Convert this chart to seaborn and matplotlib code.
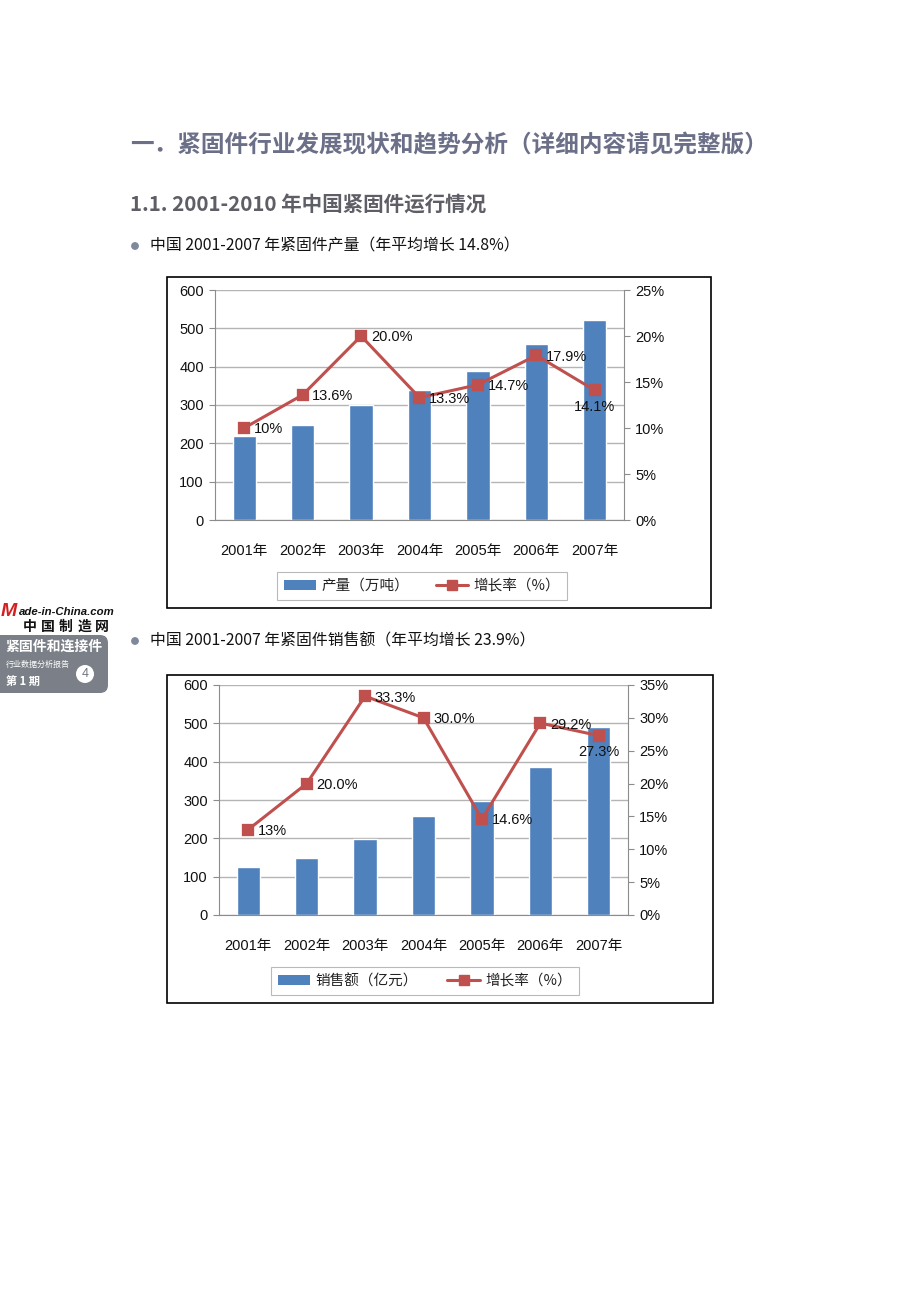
"""Fastener industry report page: output and sales charts 2001-2007"""
import numpy as np
import matplotlib
matplotlib.use("Agg")
import matplotlib.pyplot as plt
import seaborn as sns
from matplotlib.patches import Patch, Rectangle, FancyBboxPatch, Circle
from matplotlib.lines import Line2D
from matplotlib.ticker import FuncFormatter

sns.set_theme(style="white")
plt.rcParams['font.family'] = ['Liberation Sans', 'Noto Sans CJK SC', 'DejaVu Sans']

# data
years = ['2001年', '2002年', '2003年', '2004年', '2005年', '2006年', '2007年']
output = [219, 248, 300, 339, 389, 459, 522]
output_growth = [10.0, 13.6, 20.0, 13.3, 14.7, 17.9, 14.1]
output_labels = ['10%', '13.6%', '20.0%', '13.3%', '14.7%', '17.9%', '14.1%']
sales = [125, 149, 198, 258, 297, 386, 490]
sales_growth = [13.0, 20.0, 33.3, 30.0, 14.6, 29.2, 27.3]
sales_labels = ['13%', '20.0%', '33.3%', '30.0%', '14.6%', '29.2%', '27.3%']

BAR = '#4f81bd'
RED = '#c0504d'
GRID = '#b4b4b4'
AXC = '#8c8c8c'
W, H = 920, 1302

fig = plt.figure(figsize=(W / 100, H / 100), dpi=100)

# overlay in pixel coordinates for page text, frames and logo
bg = fig.add_axes([0, 0, 1, 1])
bg.set_xlim(0, W)
bg.set_ylim(H, 0)
bg.axis('off')

cjk = ['Noto Sans CJK SC', 'DejaVu Sans']
bg.text(130, 145, '一．紧固件行业发展现状和趋势分析（详细内容请见完整版）',
        fontsize=17, fontweight='bold', color='#6b6f88', family=cjk, va='center')
bg.text(130, 205, '1.1. 2001-2010 年中国紧固件运行情况',
        fontsize=14.8, fontweight='bold', color='#5e5e66', family=cjk, va='center')

bullets = [(246, '中国 2001-2007 年紧固件产量（年平均增长 14.8%）'),
           (641, '中国 2001-2007 年紧固件销售额（年平均增长 23.9%）')]
for y, txt in bullets:
    bg.add_patch(Circle((135, y), 3.2, color='#7f889c'))
    bg.text(150, y, txt, fontsize=11.4, color='#111111', family=cjk, va='center')

# logo on the left margin
bg.text(1, 612, 'M', fontsize=14, fontweight='bold', style='italic', color='#d42020',
        va='center')
bg.text(19, 612, 'ade-in-China.com', fontsize=8.2, fontweight='bold', style='italic',
        color='#111111', va='center')
for i, ch in enumerate('中国制造网'):
    bg.text(30 + i * 18, 627, ch, fontsize=10, fontweight='bold', color='#111111',
            family=cjk, va='center', ha='center')
bg.add_patch(FancyBboxPatch((-10, 635), 118, 58, boxstyle='round,pad=0,rounding_size=8',
                            facecolor='#7b7f87', edgecolor='none'))
bg.text(5, 647, '紧固件和连接件', fontsize=10, fontweight='bold', color='white',
        family=cjk, va='center')
bg.text(6, 664, '行业数据分析报告', fontsize=5.8, color='white', family=cjk, va='center')
bg.text(6, 681, '第 1 期', fontsize=8, fontweight='bold', color='white', family=cjk,
        va='center')
bg.add_patch(Circle((85, 674), 9, facecolor='white', edgecolor='none'))
bg.text(85, 674, '4', fontsize=9, color='#6f737a', ha='center', va='center')


def draw_chart(plot_px, frame_px, legend_xy, values, growth, labels, right_max,
               bar_name, below, colspace):
    l, t, r, b = plot_px
    bg.add_patch(Rectangle((frame_px[0], frame_px[1]), frame_px[2] - frame_px[0],
                           frame_px[3] - frame_px[1], fill=False, edgecolor='black',
                           linewidth=1.2))
    ax = fig.add_axes([l / W, 1 - b / H, (r - l) / W, (b - t) / H])
    sns.barplot(x=years, y=values, ax=ax, color=BAR, width=0.4, saturation=1)
    ax.set_xlim(-0.5, len(years) - 0.5)
    ax.set_ylim(0, 600)
    ax.set_yticks(np.arange(0, 601, 100))
    ax.set_axisbelow(True)
    ax.yaxis.grid(True, color=GRID, linewidth=1)
    ax.set_xlabel('')
    ax.set_ylabel('')
    for s in ['top', 'right']:
        ax.spines[s].set_visible(False)
    for s in ['left', 'bottom']:
        ax.spines[s].set_color(AXC)
        ax.spines[s].set_linewidth(0.8)
    ax.set_xticks(np.arange(-0.5, len(years), 1), minor=True)
    ax.tick_params(axis='x', which='major', length=0, pad=17, labelsize=10.5,
                   labelcolor='#111111')
    ax.tick_params(axis='x', which='minor', length=5, color=AXC, width=0.8)
    ax.tick_params(axis='y', length=4, color=AXC, width=0.8, left=True, pad=4,
                   labelsize=10.5, labelcolor='#111111')

    ax2 = ax.twinx()
    sns.pointplot(x=years, y=growth, ax=ax2, color=RED, markers='s', linestyles='-',
                  markersize=7, linewidth=2.2)
    ax2.set_xlim(-0.5, len(years) - 0.5)
    ax2.set_ylim(0, right_max)
    ax2.set_yticks(np.arange(0, right_max + 0.1, 5))
    ax2.yaxis.set_major_formatter(FuncFormatter(lambda v, p: f'{v:.0f}%'))
    ax2.set_ylabel('')
    for s in ['top', 'left', 'bottom']:
        ax2.spines[s].set_visible(False)
    ax2.spines['right'].set_color(AXC)
    ax2.spines['right'].set_linewidth(0.8)
    ax2.tick_params(axis='y', length=4, color=AXC, width=0.8, right=True, pad=4,
                    labelsize=10.5, labelcolor='#111111')
    ax2.grid(False)

    for i, (g, lab) in enumerate(zip(growth, labels)):
        if i in below:
            ax2.annotate(lab, (i, g), xytext=(0, -7), textcoords='offset points',
                         ha='center', va='top', fontsize=10.5, color='#111111')
        else:
            ax2.annotate(lab, (i, g), xytext=(7, -1), textcoords='offset points',
                         ha='left', va='center', fontsize=10.5, color='#111111')

    handles = [Patch(facecolor=BAR, edgecolor='none'),
               Line2D([], [], color=RED, marker='s', linewidth=2.2, markersize=7)]
    leg = fig.legend(handles, [bar_name, '增长率（%）'], loc='center', ncol=2,
                     bbox_to_anchor=(legend_xy[0] / W, 1 - legend_xy[1] / H),
                     frameon=True, fancybox=False, handlelength=2.2,
                     columnspacing=colspace, handletextpad=0.4, borderpad=0.45,
                     prop={'family': cjk, 'size': 10.5})
    leg.get_frame().set_edgecolor('#a8a8a8')
    leg.get_frame().set_linewidth(0.8)
    for tx in leg.get_texts():
        tx.set_color('#222222')


draw_chart((215, 290, 624, 520), (167, 277, 711, 608), (422, 586),
           output, output_growth, output_labels, 25, '产量（万吨）', below=[6],
           colspace=1.8)
draw_chart((219, 685, 628, 915), (167, 675, 713, 1003), (425, 981),
           sales, sales_growth, sales_labels, 35, '销售额（亿元）', below=[6],
           colspace=2.0)

fig.savefig('out.png', dpi=100, facecolor='white')
